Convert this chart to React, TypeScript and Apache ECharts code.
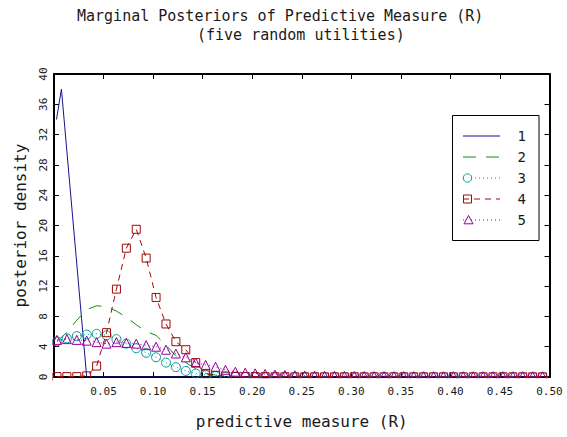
import React, { useEffect, useRef } from "react";
import * as echarts from "echarts";

// x positions of the sampled grid (shared by series 2-5)
const xs = [
  0.003, 0.013, 0.023, 0.033, 0.043, 0.053, 0.063, 0.073, 0.083, 0.093,
  0.103, 0.113, 0.123, 0.133, 0.143, 0.153, 0.163, 0.173, 0.183, 0.193,
  0.203, 0.213, 0.223, 0.233, 0.243, 0.253, 0.263, 0.273, 0.283, 0.293,
  0.303, 0.313, 0.323, 0.333, 0.343, 0.353, 0.363, 0.373, 0.383, 0.393,
  0.403, 0.413, 0.423, 0.433, 0.443, 0.453, 0.463, 0.473, 0.483, 0.493,
];

// series 1 (own grid)
const s1x = [0.0025, 0.0075, 0.033, 0.5];
const s1y = [34, 38, 0, 0];

const s2 = [
  4.7, 5.9, 7.5, 8.9, 9.4, 9.3, 8.7, 7.9, 6.9, 6.0,
  5.5, 4.2, 2.8, 1.9, 1.1, 0.5, 0.25, 0.1, 0.05, 0.02,
  0, 0, 0, 0, 0, 0, 0, 0, 0, 0,
  0, 0, 0, 0, 0, 0, 0, 0, 0, 0,
  0, 0, 0, 0, 0, 0, 0, 0, 0, 0,
];

const s3 = [
  4.7, 5.1, 5.4, 5.6, 5.7, 5.5, 5.0, 4.4, 3.8, 3.2,
  2.6, 1.9, 1.3, 0.8, 0.45, 0.25, 0.12, 0.06, 0.03, 0.02,
  0.01, 0.01, 0, 0, 0, 0, 0, 0, 0, 0,
  0, 0, 0, 0, 0, 0, 0, 0, 0, 0,
  0, 0, 0, 0, 0, 0, 0, 0, 0, 0,
];

const s4 = [
  0.05, 0.05, 0.05, 0.15, 1.45, 5.85, 11.6, 17.0, 19.5, 15.7,
  10.5, 7.0, 4.66, 3.6, 1.9, 0.4, 0.2, 0.12, 0.08, 0.06,
  0.05, 0.04, 0.03, 0.03, 0.02, 0.02, 0.02, 0.02, 0.02, 0.02,
  0.02, 0.02, 0.02, 0.02, 0.02, 0.02, 0.02, 0.02, 0.02, 0.02,
  0.02, 0.02, 0.02, 0.02, 0.02, 0.02, 0.02, 0.02, 0.02, 0.02,
];

const s5 = [
  4.9, 5.0, 4.9, 4.8, 4.6, 4.4, 4.6, 4.5, 4.4, 4.2,
  4.0, 3.6, 3.1, 2.6, 1.9, 1.6, 1.35, 0.95, 0.7, 0.57,
  0.48, 0.4, 0.32, 0.27, 0.23, 0.2, 0.18, 0.16, 0.15, 0.14,
  0.13, 0.13, 0.12, 0.12, 0.12, 0.11, 0.11, 0.11, 0.1, 0.1,
  0.1, 0.1, 0.1, 0.1, 0.1, 0.1, 0.1, 0.1, 0.1, 0.1,
];

const seriesNames = ["1", "2", "3", "4", "5"];
const titleLine1 = "Marginal Posteriors of Predictive Measure (R)";
const titleLine2 = "(five random utilities)";
const xName = "predictive measure (R)";
const yName = "posterior density";

const FONT = "DejaVu Sans Mono";
const TEXT_COLOR = "#1a1a1a";
const colors = ["#14148f", "#0e900e", "#00999c", "#9c0a0a", "#96009a"];
const dashes: (number[] | "solid")[] = ["solid", [13, 10], [1, 3], [6, 5], [1, 3]];
const symbols = ["none", "none", "circle", "rect", "triangle"];
const symbolSizes = [0, 0, 9, 8, 9];

export default function App() {
  const ref = useRef<HTMLDivElement>(null);
  useEffect(() => {
    const chart = echarts.init(ref.current!, null, { renderer: "svg" });
    const gridLeft = 54;
    const gridRight = 17.5;
    const gridTop = 74;
    const gridBottom = 60;

    const datasets = [
      s1x.map((x, i) => [x, s1y[i]]),
      xs.map((x, i) => [x, s2[i]]),
      xs.map((x, i) => [x, s3[i]]),
      xs.map((x, i) => [x, s4[i]]),
      xs.map((x, i) => [x, s5[i]]),
    ];

    const series = seriesNames.map((name, i) => ({
      name,
      type: "line",
      data: datasets[i],
      xAxisIndex: 0,
      yAxisIndex: 0,
      symbol: symbols[i],
      symbolSize: symbolSizes[i],
      showSymbol: symbols[i] !== "none",
      clip: true,
      z: 2 + i,
      lineStyle: { color: colors[i], width: 1, type: dashes[i] },
      itemStyle: {
        color: "rgba(0,0,0,0)",
        borderColor: colors[i],
        borderWidth: 1,
      },
      emphasis: { disabled: true },
    }));

    // legend drawn as graphics from the series metadata
    const legendEls: any[] = [
      {
        type: "rect",
        shape: { x: 452.5, y: 115.5, width: 86.5, height: 125 },
        style: { fill: "#fff", stroke: "#000", lineWidth: 1 },
        z: 50,
      },
    ];
    seriesNames.forEach((name, i) => {
      const y = 136 + 21 * i;
      legendEls.push({
        type: "line",
        shape: { x1: 463, y1: y, x2: 500, y2: y },
        style: {
          stroke: colors[i],
          lineWidth: 1,
          lineDash: dashes[i] === "solid" ? null : dashes[i],
        },
        z: 51,
      });
      const cx = 467.5;
      if (symbols[i] === "circle") {
        legendEls.push({
          type: "circle",
          shape: { cx, cy: y, r: 4.2 },
          style: { fill: "#fff", stroke: colors[i], lineWidth: 1 },
          z: 52,
        });
      } else if (symbols[i] === "rect") {
        legendEls.push({
          type: "rect",
          shape: { x: cx - 4, y: y - 4, width: 8, height: 8 },
          style: { fill: "none", stroke: colors[i], lineWidth: 1 },
          z: 52,
        });
      } else if (symbols[i] === "triangle") {
        legendEls.push({
          type: "polygon",
          shape: {
            points: [
              [cx + 1, y - 4.5],
              [cx + 5.5, y + 3.8],
              [cx - 3.5, y + 3.8],
            ],
          },
          style: { fill: "#fff", stroke: colors[i], lineWidth: 1 },
          z: 52,
        });
      }
      legendEls.push({
        type: "text",
        x: 521.7,
        y,
        style: {
          text: name,
          fontFamily: FONT,
          fontSize: 14,
          fill: TEXT_COLOR,
          align: "center",
          verticalAlign: "middle",
        },
        z: 52,
      });
    });

    const axisText = { fontFamily: FONT, fontSize: 11, color: TEXT_COLOR };

    chart.setOption({
      animation: false,
      backgroundColor: "#fff",
      title: [
        {
          text: titleLine1,
          left: 77,
          top: 8,
          padding: 0,
          textStyle: { fontFamily: FONT, fontSize: 15, fontWeight: "normal", color: TEXT_COLOR },
        },
        {
          text: titleLine2,
          left: 197,
          top: 27,
          padding: 0,
          textStyle: { fontFamily: FONT, fontSize: 15, fontWeight: "normal", color: TEXT_COLOR },
        },
      ],
      grid: { left: gridLeft, right: gridRight, top: gridTop, bottom: gridBottom, containLabel: false },
      xAxis: [
        {
          type: "value",
          position: "bottom",
          min: 0,
          max: 0.5,
          interval: 0.05,
          name: xName,
          nameLocation: "middle",
          nameGap: 36,
          nameTextStyle: { fontFamily: FONT, fontSize: 16, color: TEXT_COLOR },
          axisLine: { show: true, onZero: false, lineStyle: { color: "#000", width: 2 } },
          axisTick: { show: true, inside: true, length: 5, lineStyle: { color: "#000", width: 1 } },
          axisLabel: {
            ...axisText,
            margin: 9,
            showMinLabel: false,
            formatter: (v: number) => (v === 0 ? "" : v.toFixed(2)),
          },
          splitLine: { show: false },
        },
        {
          type: "value",
          position: "top",
          min: 0,
          max: 0.5,
          interval: 0.05,
          axisLine: { show: true, onZero: false, lineStyle: { color: "#000", width: 2 } },
          axisTick: { show: true, inside: true, length: 5, lineStyle: { color: "#000", width: 1 } },
          axisLabel: { show: false },
          splitLine: { show: false },
        },
      ],
      yAxis: [
        {
          type: "value",
          position: "left",
          min: 0,
          max: 40,
          interval: 4,
          name: yName,
          nameLocation: "middle",
          nameGap: 26,
          nameRotate: 90,
          nameTextStyle: { fontFamily: FONT, fontSize: 16, color: TEXT_COLOR },
          axisLine: { show: true, onZero: false, lineStyle: { color: "#000", width: 2 } },
          axisTick: { show: true, inside: true, length: 5, lineStyle: { color: "#000", width: 1 } },
          axisLabel: { ...axisText, rotate: 90, margin: 5 },
          splitLine: { show: false },
        },
        {
          type: "value",
          position: "right",
          min: 0,
          max: 40,
          interval: 4,
          axisLine: { show: true, onZero: false, lineStyle: { color: "#000", width: 2 } },
          axisTick: { show: true, inside: true, length: 5, lineStyle: { color: "#000", width: 1 } },
          axisLabel: { show: false },
          splitLine: { show: false },
        },
      ],
      series,
      graphic: [
        {
          type: "rect",
          shape: { x: 53, y: 378.3, width: 500, height: 6 },
          style: { fill: "#fff" },
          z: 40,
        },
        ...legendEls,
      ],
    });
    return () => chart.dispose();
  }, []);
  return (
    <div
      ref={ref}
      style={{ width: 567, height: 437, position: "absolute", left: 0, top: 0 }}
    />
  );
}
